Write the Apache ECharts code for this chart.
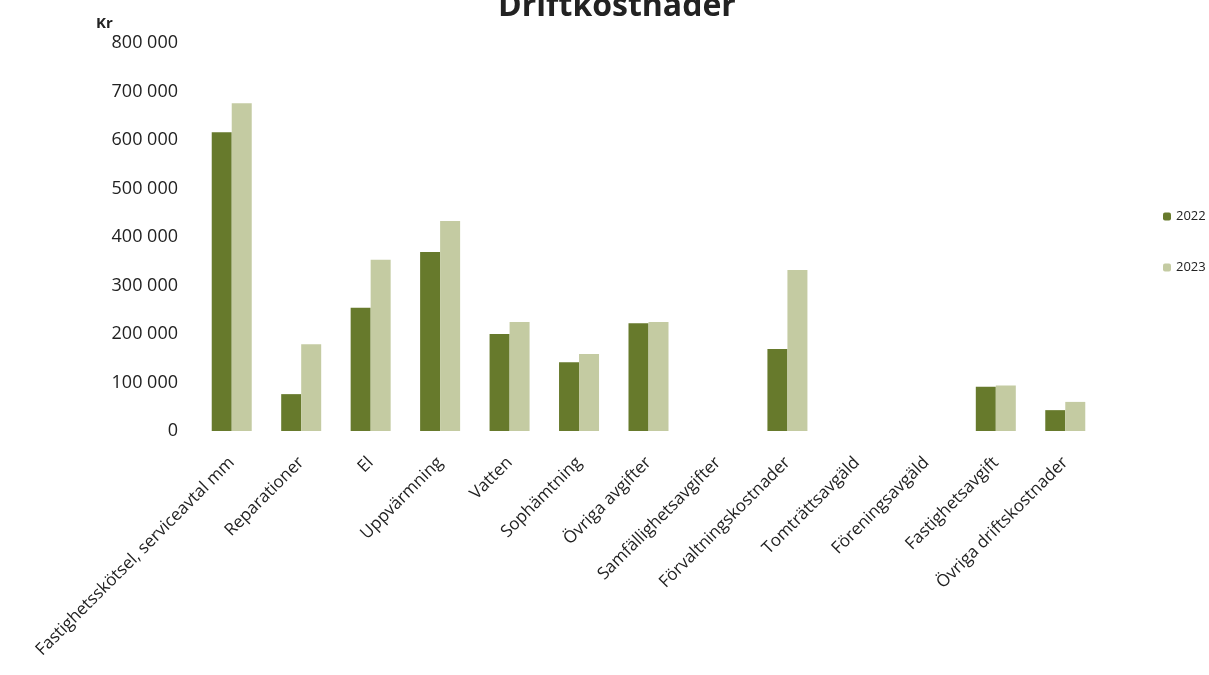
<!DOCTYPE html>
<html><head><meta charset="utf-8">
<script src="https://cdn.jsdelivr.net/npm/echarts@6/dist/echarts.min.js"></script>
<style>html,body{margin:0;padding:0;background:#fff}#c{width:1209px;height:675px}</style>
</head><body><div id="c"></div>
<script>
const categories = ["Fastighetsskötsel, serviceavtal mm","Reparationer","El","Uppvärmning","Vatten","Sophämtning","Övriga avgifter","Samfällighetsavgifter","Förvaltningskostnader","Tomträttsavgäld","Föreningsavgäld","Fastighetsavgift","Övriga driftskostnader"];
const values2022 = [616000,76000,254000,369000,200000,142000,222000,0,169000,0,0,91000,43000];
const values2023 = [676000,179000,353000,433000,225000,159000,225000,0,332000,0,0,94000,60000];
const yTicks = [0,100000,200000,300000,400000,500000,600000,700000,800000];

const chart = echarts.init(document.getElementById('c'));
const fmt = v => String(v).replace(/\B(?=(\d{3})+(?!\d))/g, ' ');
chart.setOption({
  animation:false,
  graphic:[
    {type:'text',x:617,y:23,style:{text:'Driftkostnader',textAlign:'center',textVerticalAlign:'bottom',font:'bold 32px "Open Sans"',fill:'#222'}},
    {type:'text',left:96,top:16,style:{text:'Kr',font:'bold 15px "Open Sans"',fill:'#222'}}
  ],
  legend:{orient:'vertical',left:1158,top:205,itemGap:38,itemWidth:8,itemHeight:8,
    textStyle:{fontFamily:'Open Sans',fontSize:13,color:'#222'},data:['2022','2023']},
  grid:{left:197,right:109,top:43,bottom:244,containLabel:false},
  xAxis:{type:'category',data:categories,axisLine:{show:false},axisTick:{show:false},
    axisLabel:{rotate:45,interval:0,margin:29,fontFamily:'Open Sans',fontSize:17,color:'#222'}},
  yAxis:{type:'value',min:yTicks[0],max:yTicks[yTicks.length-1],interval:100000,
    splitLine:{show:false},axisLine:{show:false},axisTick:{show:false},
    axisLabel:{formatter:fmt,margin:19,fontFamily:'Open Sans',fontSize:18,color:'#222'}},
  series:[
    {name:'2022',type:'bar',data:values2022,barWidth:20,barGap:'0%',itemStyle:{color:'#677a2c'}},
    {name:'2023',type:'bar',data:values2023,barWidth:20,barGap:'0%',itemStyle:{color:'#c4cba2'}}
  ]
});
</script></body></html>
